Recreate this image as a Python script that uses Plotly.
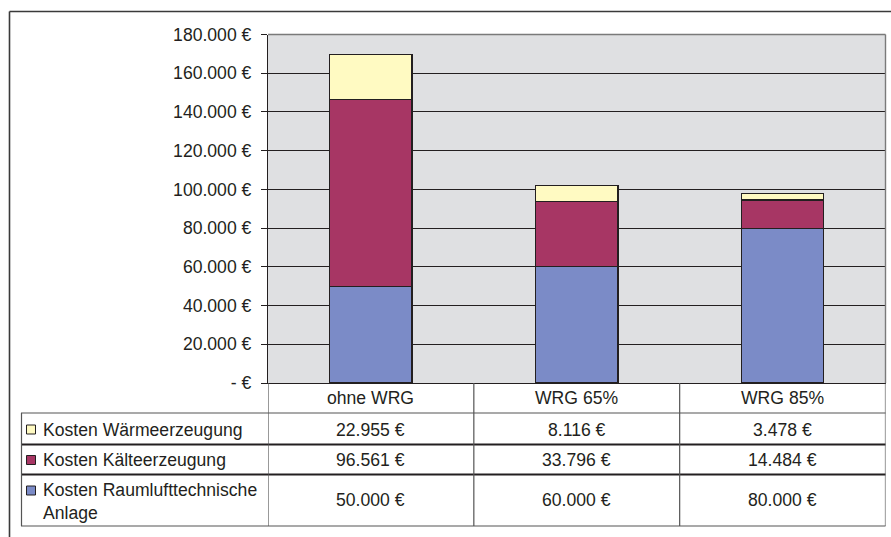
import plotly.graph_objects as go

W, H = 891, 537

categories = ["ohne WRG", "WRG 65%", "WRG 85%"]
series_names = ["Kosten Wärmeerzeugung", "Kosten Kälteerzeugung", "Kosten Raumlufttechnische<br>Anlage"]
raum = [50000, 60000, 80000]
kaelte = [96561, 33796, 14484]
waerme = [22955, 8116, 3478]
tick_vals = [0, 20000, 40000, 60000, 80000, 100000, 120000, 140000, 160000, 180000]
tick_text = ["- €", "20.000 €", "40.000 €", "60.000 €", "80.000 €", "100.000 €",
             "120.000 €", "140.000 €", "160.000 €", "180.000 €"]

col_yellow = "#FFFAC2"
col_maroon = "#A73664"
col_blue = "#7B8BC7"
dark = "#231F20"
FONT = "Liberation Sans, Arial, sans-serif"
FS = 17.6


def px(x):
    return x / W


def py(y):
    return 1 - y / H


def fmt(v):
    return f"{v:,}".replace(",", ".") + " €"


fig = go.Figure()
for vals, col in [(raum, col_blue), (kaelte, col_maroon), (waerme, col_yellow)]:
    fig.add_trace(go.Bar(x=categories, y=vals, marker=dict(color=col, line=dict(color=dark, width=1.2)),
                         width=0.4, showlegend=False, hoverinfo="skip"))

plot_left, plot_right, plot_top, plot_bottom = 268, 885.5, 34.5, 383

fig.update_layout(
    width=W, height=H, margin=dict(l=0, r=0, t=0, b=0, pad=0, autoexpand=False),
    paper_bgcolor="white", plot_bgcolor="#DFE0E2",
    barmode="stack", showlegend=False,
    font=dict(family=FONT, size=FS, color=dark),
    xaxis=dict(domain=[px(plot_left), px(plot_right)], range=[-0.5, 2.5], automargin=False,
               showticklabels=False, ticks="", showgrid=False, zeroline=False,
               showline=True, linecolor=dark, linewidth=1.2, fixedrange=True),
    yaxis=dict(domain=[py(plot_bottom), py(plot_top)], range=[0, 180000], automargin=False,
               tickvals=tick_vals, ticktext=tick_text, ticks="outside", ticklen=6,
               tickcolor=dark, tickwidth=1.2, ticklabelstandoff=6,
               showgrid=True, gridcolor=dark, gridwidth=1.1, zeroline=False,
               showline=True, linecolor=dark, linewidth=1.2,
               tickfont=dict(size=FS, color=dark, family=FONT)),
)

shapes = []
# outer frame (left and top edges visible in the picture)
shapes.append(dict(type="line", xref="paper", yref="paper", x0=px(9.5), x1=1,
                   y0=py(11.5), y1=py(11.5), line=dict(color="#3a3a3a", width=1.6)))
shapes.append(dict(type="line", xref="paper", yref="paper", x0=px(9.5), x1=px(9.5),
                   y0=py(11.5), y1=0, line=dict(color="#3a3a3a", width=1.6)))
# plot area top/right border (gray)
shapes.append(dict(type="line", xref="paper", yref="paper", x0=px(plot_left), x1=px(plot_right),
                   y0=py(plot_top), y1=py(plot_top), line=dict(color="#7a7a7a", width=1.4)))
shapes.append(dict(type="line", xref="paper", yref="paper", x0=px(plot_right), x1=px(plot_right),
                   y0=py(plot_top), y1=py(plot_bottom), line=dict(color="#7a7a7a", width=1.4)))

# table geometry (pixel rows)
row_lines = [413, 444.5, 474.5, 526]
row_styles = [("#555", 1.2), (dark, 2.2), (dark, 2.2), ("#555", 1.2)]
for yl, (c, w) in zip(row_lines, row_styles):
    shapes.append(dict(type="line", xref="paper", yref="paper", x0=px(21), x1=px(plot_right),
                       y0=py(yl), y1=py(yl), line=dict(color=c, width=w)))
# vertical lines: category boundaries via x scale
for xb in [-0.5, 0.5, 1.5, 2.5]:
    shapes.append(dict(type="line", xref="x", yref="paper", x0=xb, x1=xb,
                       y0=py(plot_bottom), y1=py(526), line=dict(color="#555", width=1.2)))
shapes.append(dict(type="line", xref="paper", yref="paper", x0=px(21.5), x1=px(21.5),
                   y0=py(413), y1=py(526), line=dict(color="#555", width=1.2)))

annotations = []
# header row
for c in categories:
    annotations.append(dict(x=c, y=py(398), xref="x", yref="paper", text=c, showarrow=False,
                            font=dict(size=FS, color=dark, family=FONT), xanchor="center", yanchor="middle"))

row_centers = [429.5, 460, 500]
row_data = [waerme, kaelte, raum]
row_colors = [col_yellow, col_maroon, col_blue]
for ri, (yc, data, colr, name) in enumerate(zip(row_centers, row_data, row_colors, series_names)):
    for c, v in zip(categories, data):
        annotations.append(dict(x=c, y=py(yc), xref="x", yref="paper", text=fmt(v), showarrow=False,
                                font=dict(size=FS, color=dark, family=FONT), xanchor="center", yanchor="middle"))
    sq_y = yc if ri < 2 else 490.5
    shapes.append(dict(type="rect", xref="paper", yref="paper", x0=px(26.5), x1=px(35.5),
                       y0=py(sq_y - 4.5), y1=py(sq_y + 4.5), fillcolor=colr,
                       line=dict(color=dark, width=1)))
    annotations.append(dict(x=px(41), y=py(yc if ri < 2 else 501.5), xref="paper", yref="paper", text=name,
                            showarrow=False, align="left",
                            font=dict(size=FS, color=dark, family=FONT), xanchor="left", yanchor="middle"))

fig.update_layout(shapes=shapes, annotations=annotations)
fig.write_html("out.html")
